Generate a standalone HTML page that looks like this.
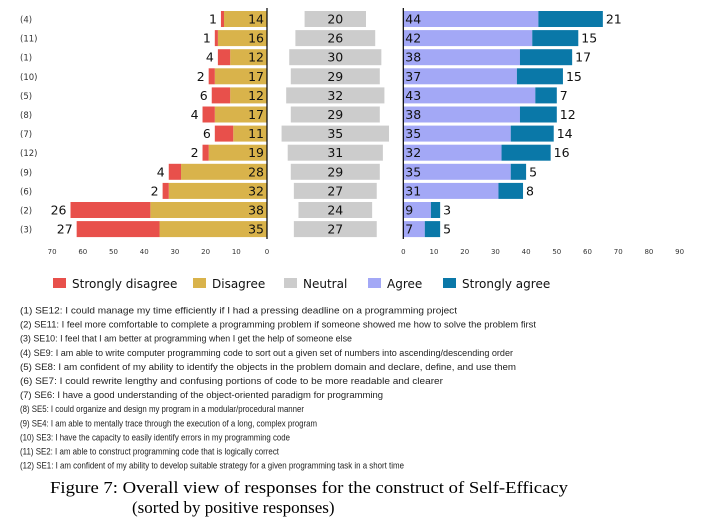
<!DOCTYPE html>
<html><head><meta charset="utf-8"><style>
body{margin:0;background:#fff;}
svg{display:block;font-family:"DejaVu Sans","Liberation Sans",sans-serif;}
</style></head><body>
<svg id="chart" width="707" height="523" viewBox="0 0 707 523" xmlns="http://www.w3.org/2000/svg">
<g id="marks"></g>
<g id="legend"></g>
<g id="notes" font-size="9.6" fill="#222" font-family="'Liberation Sans',sans-serif"></g>
<text x="50" y="493" font-family="'Liberation Serif',serif" font-size="17" textLength="518" lengthAdjust="spacingAndGlyphs">Figure 7: Overall view of responses for the construct of Self-Efficacy</text>
<text x="132" y="513" font-family="'Liberation Serif',serif" font-size="17">(sorted by positive responses)</text>
</svg>
<script>
const categories=["(4)","(11)","(1)","(10)","(5)","(8)","(7)","(12)","(9)","(6)","(2)","(3)"];
const stronglyDisagree=[1,1,4,2,6,4,6,2,4,2,26,27];
const disagree=[14,16,12,17,12,17,11,19,28,32,38,35];
const neutral=[20,26,30,29,32,29,35,31,29,27,24,27];
const agree=[44,42,38,37,43,38,35,32,35,31,9,7];
const stronglyAgree=[21,15,17,15,7,12,14,16,5,8,3,5];
const leftTicks=[70,60,50,40,30,20,10,0];
const rightTicks=[0,10,20,30,40,50,60,70,80,90];
const notes=["(1) SE12: I could manage my time efficiently if I had a pressing deadline on a programming project",
"(2) SE11: I feel more comfortable to complete a programming problem if someone showed me how to solve the problem first",
"(3) SE10: I feel that I am better at programming when I get the help of someone else",
"(4) SE9: I am able to write computer programming code to sort out a given set of numbers into ascending/descending order",
"(5) SE8: I am confident of my ability to identify the objects in the problem domain and declare, define, and use them",
"(6) SE7: I could rewrite lengthy and confusing portions of code to be more readable and clearer",
"(7) SE6: I have a good understanding of the object-oriented paradigm for programming",
"(8) SE5: I could organize and design my program in a modular/procedural manner",
"(9) SE4: I am able to mentally trace through the execution of a long, complex program",
"(10) SE3: I have the capacity to easily identify errors in my programming code",
"(11) SE2: I am able to construct programming code that is logically correct",
"(12) SE1: I am confident of my ability to develop suitable strategy for a given programming task in a short time"];
const noteW=[437,516,332,493,496,423,363,284,297,270,259,384];
const C={sd:"#e8504b",d:"#d9b34b",n:"#cccccc",a:"#a3a8f6",sa:"#0a78a8"};
const NS="http://www.w3.org/2000/svg";
const S=3.07, L0=267, R0=403.3, NC=335.3, ROW0=19, PITCH=19.1, BH=16;
const xL=v=>L0-v*S, xR=v=>R0+v*S, yRow=i=>ROW0+i*PITCH;
const g=document.getElementById('marks');
function el(tag,attrs,parent){const e=document.createElementNS(NS,tag);for(const k in attrs)e.setAttribute(k,attrs[k]);(parent||g).appendChild(e);return e;}
function txt(x,y,s,attrs,parent){const t=el('text',Object.assign({x:x,y:y},attrs||{}),parent);t.textContent=s;return t;}
categories.forEach((c,i)=>{
  const y=yRow(i);
  let t=txt(20,y+3.5,c,{'font-size':8.5,fill:'#333'});
  
  
  let r=el('rect',{x:xL(disagree[i]),y:y-BH/2,width:disagree[i]*S,height:BH,fill:C.d});
  
  
  r=el('rect',{x:xL(disagree[i]+stronglyDisagree[i]),y:y-BH/2,width:stronglyDisagree[i]*S,height:BH,fill:C.sd});
  
  
  r=el('rect',{x:NC-neutral[i]*S/2,y:y-BH/2,width:neutral[i]*S,height:BH,fill:C.n});
  
  
  r=el('rect',{x:xR(0),y:y-BH/2,width:agree[i]*S,height:BH,fill:C.a});
  
  
  r=el('rect',{x:xR(agree[i]),y:y-BH/2,width:stronglyAgree[i]*S,height:BH,fill:C.sa});
  
  
  const fs={'font-size':12.5,fill:'#111'};
  t=txt(L0-3,y+4.5,disagree[i],Object.assign({'text-anchor':'end'},fs));
  
  
  t=txt(xL(disagree[i]+stronglyDisagree[i])-4,y+4.5,stronglyDisagree[i],Object.assign({'text-anchor':'end'},fs));
  
  
  t=txt(NC,y+4.5,neutral[i],Object.assign({'text-anchor':'middle'},fs));
  
  
  t=txt(R0+2,y+4.5,agree[i],fs);
  
  
  t=txt(xR(agree[i]+stronglyAgree[i])+3,y+4.5,stronglyAgree[i],fs);
  
  
});
let ax=el('line',{x1:L0,x2:L0,y1:8,y2:239,stroke:'#000','stroke-width':1.2});


ax=el('line',{x1:R0,x2:R0,y1:8,y2:239,stroke:'#000','stroke-width':1.2});


leftTicks.forEach(v=>{
  const t=txt(xL(v),254,v,{'font-size':7,'text-anchor':'middle',fill:'#333'});
  
  
});
rightTicks.forEach(v=>{
  const t=txt(xR(v),254,v,{'font-size':7,'text-anchor':'middle',fill:'#333'});
  
  
});
const lg=document.getElementById('legend');
const legendItems=[["Strongly disagree",C.sd,53],["Disagree",C.d,193],["Neutral",C.n,284],["Agree",C.a,368],["Strongly agree",C.sa,443]];
legendItems.forEach(([n,c,x])=>{
  const r=el('rect',{x:x,y:278,width:13,height:10,fill:c},lg);
  
  
  const t=txt(x+19,288,n,{'font-size':12,fill:'#111'},lg);
  
  
});
const ng=document.getElementById('notes');
notes.forEach((s,i)=>{
  const t=txt(20,313.5+i*14.1,s,{textLength:noteW[i],lengthAdjust:'spacingAndGlyphs'},ng);
  
  
});
</script>
</body></html>
